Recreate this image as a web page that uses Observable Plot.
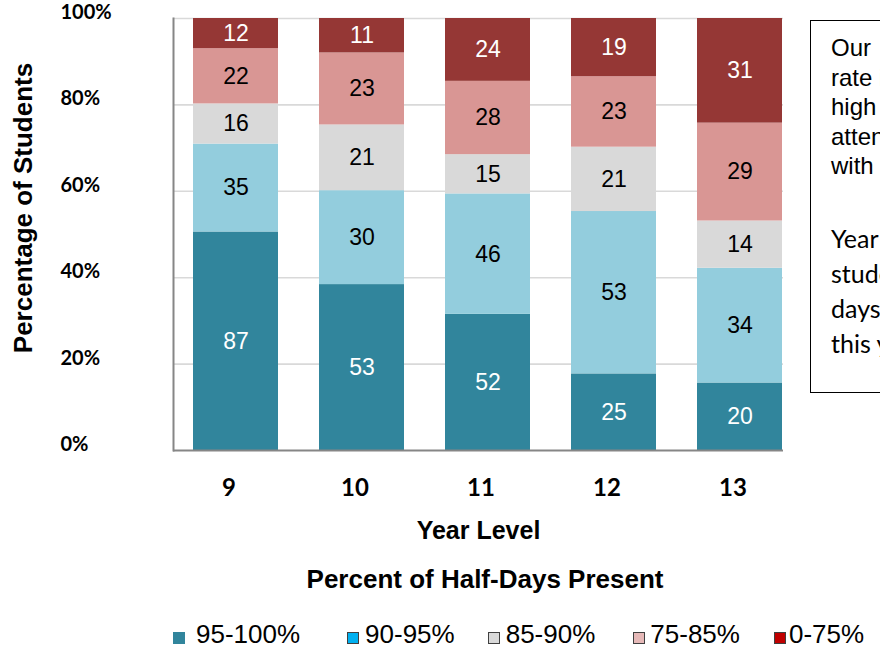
<!DOCTYPE html>
<html>
<head>
<meta charset="utf-8">
<script src="https://cdn.jsdelivr.net/npm/d3@7"></script>
<script src="https://cdn.jsdelivr.net/npm/@observablehq/plot@0.6"></script>
<style>
  html, body { margin: 0; padding: 0; background: #fff; overflow: hidden; }
  #wrap { position: relative; width: 880px; height: 649px; overflow: hidden; font-family: "Liberation Sans", Arial, sans-serif; }
  #chart { position: absolute; left: 0; top: 0; }
  #ylabel { position: absolute; left: -177px; top: 193px; width: 400px; text-align: center; font-weight: bold; font-size: 26px; line-height: 30px; transform: rotate(-90deg); }
  #title { position: absolute; left: 185px; top: 564px; width: 600px; text-align: center; font-weight: bold; font-size: 26px; line-height: 30px; }
  #legend { position: absolute; left: 173px; top: 624px; height: 20px; display: flex; align-items: center; white-space: nowrap; font-size: 26px; line-height: 20px; }
  .item { display: flex; align-items: center; }
  .sw { width: 10px; height: 10px; border: 1.5px solid #404040; position: relative; top: 4px; }
  .item:nth-child(1) { margin-right: 47px; }
  .item:nth-child(1) .sw { margin-right: 11px; }
  .item:nth-child(2) { margin-right: 33px; }
  .item:nth-child(2) .sw { margin-right: 6px; }
  .item:nth-child(3) { margin-right: 38px; }
  .item:nth-child(3) .sw { margin-right: 6px; }
  .item:nth-child(4) { margin-right: 34px; }
  .item:nth-child(4) .sw { margin-right: 5px; }
  .item:nth-child(5) .sw { margin-right: 3px; }
  #note { position: absolute; left: 810px; top: 20px; width: 330px; height: 373px; border: 1.8px solid #000; box-sizing: border-box; padding: 12px 0 0 20px; white-space: nowrap; }
  #note .p1 { font-family: "Liberation Sans", Arial, sans-serif; font-size: 24px; line-height: 29.5px; }
  #note .p2 { font-family: Lato, "Open Sans", sans-serif; font-size: 25px; line-height: 35px; margin-top: 40px; }
</style>
</head>
<body>
<div id="wrap">
  <div id="chart"></div>
  <div id="ylabel">Percentage of Students</div>
  <div id="title"></div>
  <div id="legend"></div>
  <div id="note">
    <div class="p1">Our&nbsp;&nbsp;&nbsp;attendance<br>rate is one of the<br>high levels in the region,<br>attendance is strong<br>with most years.</div>
    <div class="p2">Year 13 has the most<br>students missing<br>days of school<br>this year.</div>
  </div>
</div>
<script>
const years = ["9", "10", "11", "12", "13"];
const categories = ["95-100%", "90-95%", "85-90%", "75-85%", "0-75%"];
const s95_100 = [87, 53, 52, 25, 20];
const s90_95 = [35, 30, 46, 53, 34];
const s85_90 = [16, 21, 15, 21, 14];
const s75_85 = [22, 23, 28, 23, 29];
const s0_75 = [12, 11, 24, 19, 31];
const barColors = ["#31859c", "#93cddd", "#d9d9d9", "#d99694", "#953735"];
const legendColors = ["#31859c", "#00b0f0", "#d9d9d9", "#e6b9b8", "#c00000"];
const whiteLabelCats = ["95-100%", "0-75%"];
const yTicks = [0, 0.2, 0.4, 0.6, 0.8, 1];
const titleText = "Percent of Half-Days Present";
const xLabel = "Year Level";

const series = [s95_100, s90_95, s85_90, s75_85, s0_75];
const data = categories.flatMap((c, i) => years.map((y, j) => ({year: y, cat: c, count: series[i][j]})));

const stackOpts = {x: "year", y: "count", z: "cat", offset: "normalize"};

const chart = Plot.plot({
  width: 880,
  height: 552,
  marginTop: 18,
  marginBottom: 102,
  marginLeft: 173,
  marginRight: 97,
  style: {fontFamily: "'Liberation Sans', Arial, sans-serif", background: "white", color: "black"},
  x: {type: "band", domain: years, range: [173, 803], paddingInner: 0.325, paddingOuter: 0.16, align: 0.5, label: null},
  y: {domain: [0, 1], label: null},
  color: {domain: categories, range: barColors},
  marks: [
    Plot.ruleY(yTicks.slice(1), {stroke: "#d9d9d9", strokeWidth: 1.6}),
    Plot.barY(data, Plot.stackY({...stackOpts, fill: "cat"})),
    Plot.text(data, Plot.stackY({...stackOpts, text: d => whiteLabelCats.includes(d.cat) ? String(d.count) : null, fill: "white", fontSize: 23})),
    Plot.text(data, Plot.stackY({...stackOpts, text: d => whiteLabelCats.includes(d.cat) ? null : String(d.count), fill: "black", fontSize: 23})),
    Plot.ruleY([0], {stroke: "#868686", strokeWidth: 2}),
    Plot.frame({anchor: "left", stroke: "#868686", strokeWidth: 2}),
    Plot.axisY({ticks: yTicks, tickFormat: d3.format(".0%"), tickSize: 0, tickPadding: 0, dx: -113, dy: -6, textAnchor: "start", fontSize: 20, fontWeight: "bold", fontFamily: "Lato", fill: "black", label: null}),
    Plot.axisX({tickSize: 0, tickPadding: 28, dx: -7, fontSize: 24, fontWeight: "bold", fontFamily: "Lato", fill: "black", label: null}),
    Plot.axisX({ticks: [], label: xLabel, labelAnchor: "center", labelOffset: 88, fontSize: 25, fontWeight: "bold", fill: "black"})
  ]
});
document.getElementById("chart").appendChild(chart);

document.getElementById("title").textContent = titleText;
const legend = document.getElementById("legend");
categories.forEach((c, i) => {
  const item = document.createElement("div");
  item.className = "item";
  const sw = document.createElement("div");
  sw.className = "sw";
  sw.style.background = legendColors[i];
  if (i === 0) { sw.style.borderColor = legendColors[i]; }
  const t = document.createElement("span");
  t.textContent = c;
  item.appendChild(sw);
  item.appendChild(t);
  legend.appendChild(item);
});
</script>
</body>
</html>
